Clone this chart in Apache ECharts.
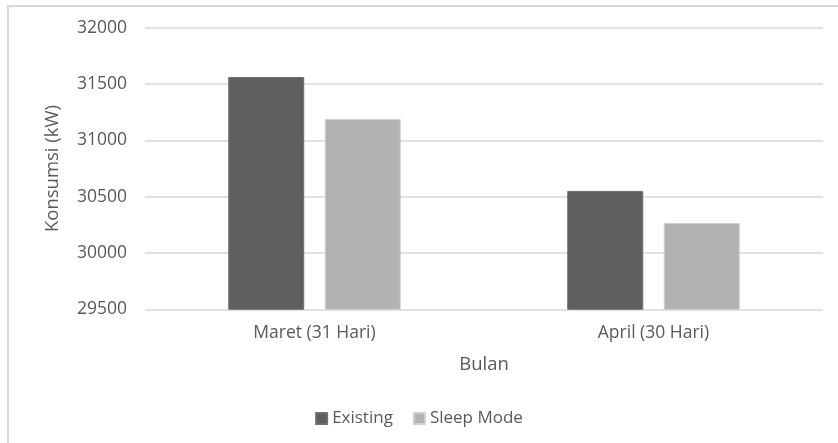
<!DOCTYPE html>
<html>
<head>
<meta charset="utf-8">
<script src="https://cdn.jsdelivr.net/npm/echarts@6/dist/echarts.min.js"></script>
<style>
  html, body { margin: 0; padding: 0; background: #fff; }
  #frame { position: absolute; left: 7px; top: 5px; width: 840px; height: 450px;
           border-left: 2px solid #d9d9d9; border-top: 2px solid #d9d9d9; box-sizing: border-box; }
  #chart { position: absolute; left: 0; top: 0; width: 838px; height: 443px; }
</style>
</head>
<body>
<div id="frame"></div>
<div id="chart"></div>
<script>
// Monthly energy consumption, existing vs. sleep mode
const categories = ['Maret (31 Hari)', 'April (30 Hari)'];
const existingValues = [31562, 30551];
const sleepModeValues = [31189, 30266];
const yMin = 29500;
const yMax = 32000;
const yStep = 500;

const textColor = '#595959';
const font = 'Open Sans';

const chart = echarts.init(document.getElementById('chart'), null, { renderer: 'canvas' });
chart.setOption({
  animation: false,
  backgroundColor: 'transparent',
  grid: { left: 145, right: 15, top: 27.7, bottom: 133.7, containLabel: false },
  legend: {
    top: 405,
    left: 'center',
    itemWidth: 11,
    itemHeight: 11,
    itemGap: 20,
    icon: 'rect',
    textStyle: { color: textColor, fontFamily: font, fontSize: 17 },
    data: ['Existing', 'Sleep Mode']
  },
  xAxis: {
    type: 'category',
    data: categories,
    name: 'Bulan',
    nameLocation: 'middle',
    nameGap: 46,
    nameTextStyle: { color: textColor, fontFamily: font, fontSize: 18.5 },
    axisLine: { show: false },
    axisTick: { show: false },
    axisLabel: { color: textColor, fontFamily: font, fontSize: 17.5, margin: 15 }
  },
  yAxis: {
    type: 'value',
    min: yMin,
    max: yMax,
    interval: yStep,
    name: 'Konsumsi (kW)',
    nameLocation: 'middle',
    nameGap: 83,
    nameTextStyle: { color: textColor, fontFamily: font, fontSize: 18.5 },
    axisLine: { show: false },
    axisTick: { show: false },
    axisLabel: { color: textColor, fontFamily: font, fontSize: 17.5, margin: 18, formatter: v => String(v) },
    splitLine: { lineStyle: { color: '#d9d9d9', width: 1.5 } }
  },
  series: [
    {
      name: 'Existing',
      type: 'bar',
      data: existingValues,
      barWidth: 76,
      barGap: '27%',
      itemStyle: { color: '#5f5f5f', borderColor: '#6f6f6f', borderWidth: 1 }
    },
    {
      name: 'Sleep Mode',
      type: 'bar',
      data: sleepModeValues,
      barWidth: 76,
      itemStyle: { color: '#b2b2b2', borderColor: '#cfcfcf', borderWidth: 1 }
    }
  ]
});
</script>
</body>
</html>
